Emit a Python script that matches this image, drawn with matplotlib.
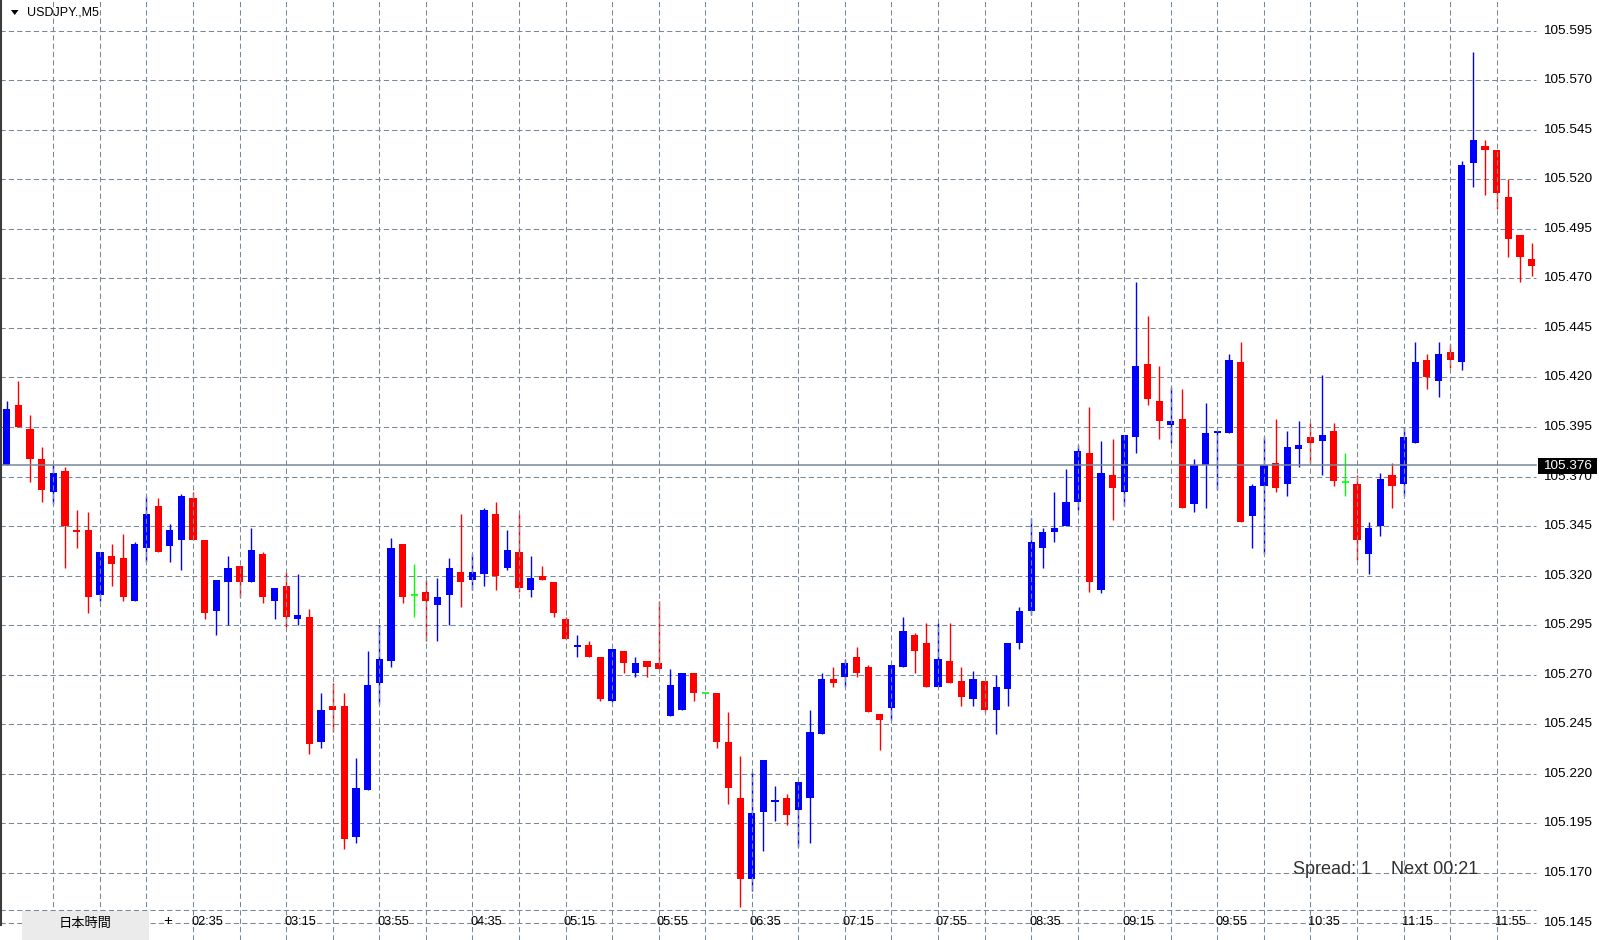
import numpy as np
import matplotlib.pyplot as plt
from matplotlib.patches import Polygon, Rectangle
from matplotlib.lines import Line2D
from matplotlib.transforms import blended_transform_factory

plt.rcParams['font.family'] = ['Liberation Sans', 'Noto Sans CJK JP', 'DejaVu Sans']

# USDJPY M5 candles, 01:15 .. 12:10
opens = [105.376, 105.406, 105.394, 105.379, 105.362, 105.373, 105.343, 105.343, 105.310, 105.330,
         105.329, 105.307, 105.334, 105.355, 105.335, 105.338, 105.359, 105.338, 105.302, 105.317,
         105.325, 105.317, 105.331, 105.307, 105.315, 105.298, 105.299, 105.236, 105.254, 105.254,
         105.188, 105.212, 105.266, 105.277, 105.336, 105.310, 105.312, 105.305, 105.310, 105.322,
         105.318, 105.321, 105.351, 105.324, 105.332, 105.313, 105.320, 105.317, 105.298, 105.284,
         105.285, 105.279, 105.257, 105.282, 105.271, 105.277, 105.276, 105.249, 105.252, 105.271,
         105.261, 105.261, 105.236, 105.208, 105.167, 105.201, 105.206, 105.208, 105.202, 105.208,
         105.240, 105.268, 105.269, 105.279, 105.274, 105.250, 105.253, 105.274, 105.290, 105.286,
         105.264, 105.277, 105.267, 105.258, 105.267, 105.252, 105.263, 105.286, 105.302, 105.334,
         105.342, 105.345, 105.357, 105.382, 105.313, 105.371, 105.362, 105.390, 105.427, 105.408,
         105.396, 105.399, 105.356, 105.376, 105.392, 105.392, 105.428, 105.350, 105.365, 105.377,
         105.366, 105.384, 105.390, 105.388, 105.393, 105.367, 105.366, 105.331, 105.345, 105.371,
         105.366, 105.387, 105.429, 105.418, 105.433, 105.428, 105.528, 105.537, 105.535, 105.511,
         105.492, 105.480]
highs = [105.408, 105.418, 105.401, 105.385, 105.376, 105.375, 105.353, 105.352, 105.332, 105.336,
         105.341, 105.337, 105.360, 105.359, 105.346, 105.361, 105.362, 105.338, 105.318, 105.330,
         105.325, 105.344, 105.332, 105.314, 105.322, 105.321, 105.303, 105.261, 105.266, 105.261,
         105.228, 105.282, 105.295, 105.339, 105.336, 105.326, 105.318, 105.319, 105.329, 105.351,
         105.331, 105.354, 105.357, 105.343, 105.351, 105.330, 105.325, 105.317, 105.299, 105.290,
         105.287, 105.279, 105.283, 105.282, 105.279, 105.277, 105.307, 105.273, 105.271, 105.271,
         105.261, 105.261, 105.251, 105.229, 105.221, 105.227, 105.214, 105.210, 105.216, 105.252,
         105.271, 105.274, 105.278, 105.284, 105.275, 105.250, 105.275, 105.299, 105.291, 105.296,
         105.296, 105.296, 105.274, 105.272, 105.267, 105.270, 105.286, 105.304, 105.349, 105.344,
         105.362, 105.374, 105.386, 105.405, 105.388, 105.389, 105.391, 105.468, 105.451, 105.426,
         105.415, 105.414, 105.379, 105.407, 105.393, 105.432, 105.438, 105.366, 105.390, 105.399,
         105.393, 105.398, 105.397, 105.421, 105.397, 105.382, 105.371, 105.347, 105.372, 105.377,
         105.395, 105.438, 105.432, 105.438, 105.437, 105.529, 105.584, 105.540, 105.535, 105.520,
         105.492, 105.488]
lows = [105.376, 105.395, 105.367, 105.357, 105.356, 105.324, 105.334, 105.301, 105.307, 105.315,
        105.307, 105.307, 105.327, 105.332, 105.327, 105.323, 105.338, 105.298, 105.290, 105.295,
        105.309, 105.317, 105.306, 105.298, 105.294, 105.295, 105.230, 105.233, 105.241, 105.182,
        105.185, 105.212, 105.255, 105.274, 105.306, 105.299, 105.287, 105.287, 105.295, 105.304,
        105.313, 105.315, 105.313, 105.323, 105.312, 105.309, 105.318, 105.299, 105.288, 105.279,
        105.279, 105.257, 105.256, 105.271, 105.269, 105.269, 105.273, 105.249, 105.252, 105.257,
        105.261, 105.233, 105.205, 105.153, 105.161, 105.181, 105.196, 105.194, 105.183, 105.185,
        105.240, 105.264, 105.264, 105.269, 105.251, 105.232, 105.247, 105.274, 105.271, 105.264,
        105.264, 105.266, 105.254, 105.254, 105.251, 105.240, 105.254, 105.283, 105.300, 105.324,
        105.337, 105.345, 105.353, 105.312, 105.311, 105.348, 105.355, 105.382, 105.406, 105.389,
        105.387, 105.354, 105.352, 105.354, 105.363, 105.392, 105.347, 105.334, 105.331, 105.362,
        105.360, 105.375, 105.377, 105.371, 105.365, 105.360, 105.328, 105.321, 105.340, 105.354,
        105.360, 105.387, 105.414, 105.410, 105.425, 105.424, 105.516, 105.512, 105.505, 105.481,
        105.468, 105.471]
closes = [105.404, 105.395, 105.379, 105.363, 105.372, 105.345, 105.342, 105.309, 105.332, 105.326,
          105.309, 105.336, 105.351, 105.332, 105.343, 105.360, 105.338, 105.301, 105.318, 105.324,
          105.317, 105.333, 105.309, 105.314, 105.299, 105.300, 105.235, 105.252, 105.252, 105.187,
          105.213, 105.265, 105.278, 105.334, 105.309, 105.310, 105.307, 105.309, 105.324, 105.317,
          105.322, 105.353, 105.320, 105.333, 105.314, 105.319, 105.318, 105.301, 105.288, 105.285,
          105.279, 105.258, 105.283, 105.276, 105.276, 105.274, 105.273, 105.265, 105.271, 105.261,
          105.261, 105.236, 105.213, 105.167, 105.200, 105.227, 105.207, 105.199, 105.216, 105.241,
          105.268, 105.266, 105.276, 105.271, 105.251, 105.247, 105.275, 105.292, 105.282, 105.264,
          105.278, 105.266, 105.259, 105.268, 105.252, 105.264, 105.286, 105.302, 105.337, 105.342,
          105.344, 105.357, 105.383, 105.317, 105.372, 105.364, 105.391, 105.426, 105.409, 105.398,
          105.398, 105.354, 105.376, 105.392, 105.393, 105.429, 105.347, 105.365, 105.376, 105.364,
          105.385, 105.386, 105.387, 105.391, 105.368, 105.367, 105.338, 105.344, 105.369, 105.365,
          105.390, 105.428, 105.420, 105.432, 105.429, 105.527, 105.540, 105.535, 105.513, 105.490,
          105.481, 105.476]

time_labels = ['02:35', '03:15', '03:55', '04:35', '05:15', '05:55', '06:35', '07:15',
               '07:55', '08:35', '09:15', '09:55', '10:35', '11:15', '11:55']
first_label_idx = 16
price_ticks = [105.595, 105.570, 105.545, 105.520, 105.495, 105.470, 105.445, 105.420, 105.395,
               105.370, 105.345, 105.320, 105.295, 105.270, 105.245, 105.220, 105.195, 105.170,
               105.145]
last_price = 105.376

# pixel geometry of the terminal window
W, H = 1600, 940
X0, STEP = 6.8, 11.64          # px of first candle, px per candle
P_REF, Y_REF, SCALE = 105.395, 427, 1982.0
RIGHT = 1536                   # right edge of chart area
GRID = '#778899'

def fx(px):
    return px / W

def fy(py):
    return 1 - py / H

fig = plt.figure(figsize=(16, 9.4), dpi=100)
fig.patch.set_facecolor('white')
ax = fig.add_axes([0, 0, 1, 1])
ax.axis('off')
ax.set_xlim(-X0 / STEP, (W - X0) / STEP)
ax.set_ylim(P_REF - (H - Y_REF) / SCALE, P_REF + Y_REF / SCALE)

x_right = (RIGHT - X0) / STEP
y_lo, y_hi = ax.get_ylim()

# horizontal grid
for p in price_ticks:
    ax.plot([ax.get_xlim()[0], x_right], [p, p], color=GRID, lw=0.75,
            ls=(0, (5, 3)), zorder=1)

# candles
o = np.array(opens)
h = np.array(highs)
l = np.array(lows)
c = np.array(closes)
idx = np.arange(len(o))
cols = np.where(c > o, '#0000ff', np.where(c < o, '#ff0000', '#00ff00'))

ax.vlines(idx, l, h, colors=cols, lw=1.0, zorder=2)
body = c != o
ax.bar(idx[body], np.abs(c - o)[body], bottom=np.minimum(o, c)[body], width=0.62,
       color=cols[body], linewidth=0, zorder=2)
flat = ~body
ax.hlines(c[flat], idx[flat] - 0.31, idx[flat] + 0.31, colors=cols[flat], lw=1.2, zorder=2)

# vertical grid (drawn over the candles, as in the terminal)
for i in range(4, len(o), 4):
    ax.plot([i, i], [y_lo, y_hi], color=GRID, lw=0.75, ls=(0, (5, 3)), zorder=3)

# current price line
ax.plot([ax.get_xlim()[0], x_right], [last_price, last_price], color=GRID, lw=1.1, zorder=3)

# time scale separator
fig.add_artist(Line2D([0, fx(RIGHT)], [fy(910), fy(910)], color=GRID, lw=0.75,
                      ls=(0, (5, 3))))

# left border
fig.add_artist(Line2D([fx(1), fx(1)], [fy(0), fy(925)], color='#3c3c3c', lw=1.5))

# price scale labels
ty = blended_transform_factory(ax.transAxes, ax.transData)
for p in price_ticks:
    ax.text(fx(1543), p, f'{p:.3f}', transform=ty, ha='left', va='center',
            fontsize=9.7, color='black')

# current price tag
ax.add_patch(Rectangle((fx(1538), fy(474)), fx(59), 16 / H, transform=fig.transFigure,
                       facecolor='black', edgecolor='none', zorder=5))
fig.text(fx(1543), fy(466), f'{last_price:.3f}', ha='left', va='center',
         fontsize=9.7, color='white', zorder=6)

# time labels
tx = blended_transform_factory(ax.transData, ax.transAxes)
for j, lab in enumerate(time_labels):
    xi = first_label_idx + 8 * j - 2 / STEP
    ax.text(xi, fy(922), lab, transform=tx, ha='left', va='center', fontsize=9.2,
            color='black', zorder=5)

# bottom tab
fig.add_artist(Rectangle((fx(22), fy(940)), fx(127), 29 / H, transform=fig.transFigure,
                         facecolor='#ebebeb', edgecolor='none'))
fig.text(fx(85), fy(923), '日本時間', ha='center', va='center', fontsize=9.5,
         family=['Noto Sans CJK JP', 'DejaVu Sans'], color='black')
fig.text(fx(168), fy(921), '+', ha='center', va='center', fontsize=11, color='black')

# header
fig.add_artist(Polygon([[fx(11), fy(10)], [fx(18.5), fy(10)], [fx(14.7), fy(15)]],
                       closed=True, transform=fig.transFigure, facecolor='black',
                       edgecolor='none'))
fig.text(fx(27), fy(12.5), 'USDJPY.,M5', ha='left', va='center', fontsize=9, color='black')

# spread / next bar info
fig.text(fx(1293), fy(870), 'Spread: 1    Next 00:21', ha='left', va='center',
         fontsize=13, color='#303030')

fig.savefig('out.png', dpi=100, facecolor='white')
